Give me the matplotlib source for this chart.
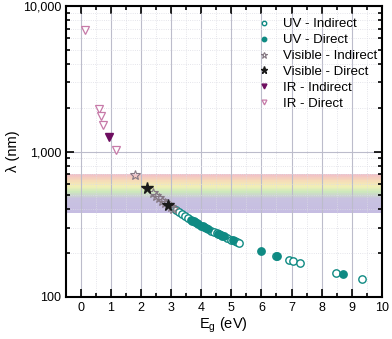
import matplotlib
matplotlib.use('Agg')
import matplotlib.pyplot as plt
import numpy as np
from matplotlib.ticker import FuncFormatter, MultipleLocator, LogLocator, NullFormatter
from matplotlib.colors import LinearSegmentedColormap

plt.rcParams['font.family'] = ['Liberation Sans', 'DejaVu Sans']
plt.rcParams['font.size'] = 9

# band gap (eV) and wavelength (nm)
uv_ind_E = [3.15, 3.25, 3.35, 3.45, 3.55, 3.9, 4.05, 4.33, 4.42, 4.52, 4.85, 5.0,
            5.13, 5.2, 5.27, 6.47, 6.93, 7.05, 7.27, 8.47, 9.33]
uv_ind_L = [394, 382, 370, 359, 349, 318, 306, 286, 281, 274, 256, 248,
            242, 238, 235, 192, 179, 176, 171, 146, 133]
uv_dir_E = [3.65, 3.7, 3.75, 3.8, 3.85, 4.0, 4.08, 4.15, 4.22, 4.55, 4.6, 4.65,
            4.7, 4.75, 5.05, 5.97, 6.53, 8.7]
uv_dir_L = [340, 335, 331, 326, 322, 310, 304, 299, 294, 273, 270, 267,
            264, 261, 246, 208, 190, 143]
vis_ind_E = [1.8, 2.4, 2.5, 2.6, 2.7, 2.8, 3.0, 3.07]
vis_ind_L = [689, 517, 496, 477, 459, 443, 413, 404]
vis_dir_E = [2.2, 2.9]
vis_dir_L = [564, 428]
ir_ind_E = [0.95]
ir_ind_L = [1260]
ir_dir_E = [0.15, 0.6, 0.67, 0.75, 1.15]
ir_dir_L = [6800, 1960, 1760, 1520, 1020]

band_lo, band_hi = 380, 700
band_stops = [(0.0, '#c6bde2'), (0.36, '#c8c2e0'), (0.54, '#cde8bc'),
              (0.69, '#f2f0b6'), (0.85, '#f6d8b8'), (1.0, '#f1bfc8')]

teal = '#0f8a83'

fig = plt.figure(figsize=(3.92, 3.39), dpi=100)
ax = fig.add_axes([0.168, 0.124, 0.806, 0.858])

# rainbow band for the visible range
cmap = LinearSegmentedColormap.from_list('vis', band_stops)
edges = np.logspace(np.log10(band_lo), np.log10(band_hi), 61)
for i in range(len(edges) - 1):
    ax.axhspan(edges[i], edges[i + 1], color=cmap(i / (len(edges) - 2)),
               lw=0, zorder=0)

ax.plot(uv_ind_E, uv_ind_L, 'o', ms=5.3, mfc='white', mec=teal, mew=1.0,
        label='UV - Indirect', zorder=3)
ax.plot(uv_dir_E, uv_dir_L, 'o', ms=5.3, mfc=teal, mec=teal, mew=1.0,
        label='UV - Direct', zorder=3)
ax.plot(vis_ind_E, vis_ind_L, '*', ms=7.5, mfc='none', mec='#857883', mew=0.8,
        label='Visible - Indirect', zorder=3)
ax.plot(vis_dir_E, vis_dir_L, '*', ms=8.5, mfc='#1a1a1a', mec='#1a1a1a',
        label='Visible - Direct', zorder=4)
ax.plot(ir_ind_E, ir_ind_L, 'v', ms=5.8, mfc='#6e0e60', mec='#6e0e60',
        label='IR - Indirect', zorder=3)
ax.plot(ir_dir_E, ir_dir_L, 'v', ms=5.8, mfc='white', mec='#c77aa8', mew=0.9,
        label='IR - Direct', zorder=3)

ax.set_yscale('log')
ax.set_xlim(-0.5, 10)
ax.set_ylim(100, 10000)
ax.xaxis.set_major_locator(MultipleLocator(1))
ax.xaxis.set_minor_locator(MultipleLocator(0.5))
ax.yaxis.set_major_locator(LogLocator(base=10))
ax.yaxis.set_minor_locator(LogLocator(base=10, subs=np.arange(2, 10)))
ax.yaxis.set_minor_formatter(NullFormatter())
ax.yaxis.set_major_formatter(FuncFormatter(lambda v, p: '{:,.0f}'.format(v)))

ax.grid(which='major', color='#bcbccb', lw=0.8, zorder=1)
ax.grid(which='minor', color='#dcdce4', lw=0.6, ls=':', zorder=1)
ax.set_axisbelow(False)
for ln in ax.get_xgridlines() + ax.get_ygridlines():
    ln.set_zorder(1)

ax.tick_params(which='both', direction='in', top=True, right=True, width=1.2)
ax.tick_params(which='major', length=6, labelsize=9)
ax.tick_params(which='minor', length=3)
for s in ax.spines.values():
    s.set_linewidth(1.5)
    s.set_zorder(5)

ax.set_xlabel(r'E$_\mathregular{g}$ (eV)', fontsize=10.5, labelpad=1)
ax.set_ylabel('λ (nm)', fontsize=10.5, labelpad=2)

ax.legend(loc='upper left', bbox_to_anchor=(0.569, 0.977), frameon=False,
          fontsize=9.5, markerscale=0.6, handletextpad=0.4, labelspacing=0.28,
          borderaxespad=0.0)

fig.savefig('out.png', dpi=100)
